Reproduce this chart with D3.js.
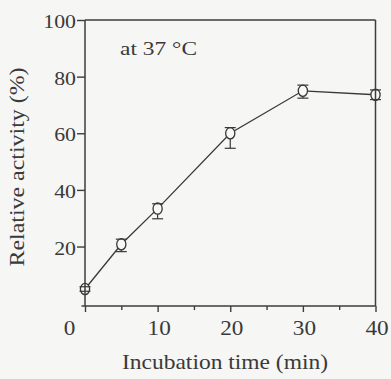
<!DOCTYPE html>
<html>
<head>
<meta charset="utf-8">
<script src="https://cdn.jsdelivr.net/npm/d3@7"></script>
<style>
  html, body { margin: 0; padding: 0; background: #f6f6f5; }
  svg { display: block; }
  text { font-family: "Liberation Serif", "Times New Roman", serif; fill: #3a3a3a; }
</style>
</head>
<body>
<svg id="chart" width="391" height="379"></svg>
<script>
// ---- data ----
const times = [0, 5, 10, 20, 30, 40];                 // incubation time (min)
const activity = [5, 20.8, 33.4, 60, 75, 73.6];        // relative activity (%)
const errUp = [0.8, 1.8, 1.7, 2.0, 2.0, 1.7];
const errDown = [0.8, 2.6, 3.6, 5.3, 2.6, 1.7];
const xMajorTicks = [0, 10, 20, 30, 40];
const xMinorTicks = [5, 15, 25, 35];
const yTicks = [20, 40, 60, 80, 100];
const xTitle = "Incubation time (min)";
const yTitle = "Relative activity (%)";
const note = "at 37 °C";

// ---- layout ----
const svg = d3.select("#chart");
const x = d3.scaleLinear().domain([0, 40]).range([85, 375.5]);
const y = d3.scaleLinear().domain([-1, 100]).range([306, 20]);
const ink = "#383838";

const points = times.map((t, i) => ({ t, v: activity[i], up: errUp[i], dn: errDown[i] }));

// data line
svg.append("path")
  .datum(points)
  .attr("fill", "none")
  .attr("stroke", ink)
  .attr("stroke-width", 1.3)
  .attr("d", d3.line().x(d => x(d.t)).y(d => y(d.v)));

// error stems (behind markers)
svg.append("g").selectAll("line").data(points).join("line")
  .attr("x1", d => x(d.t)).attr("x2", d => x(d.t))
  .attr("y1", d => y(d.v + d.up)).attr("y2", d => y(d.v - d.dn))
  .attr("stroke", ink).attr("stroke-width", 1.2);

// markers
svg.append("g").selectAll("ellipse").data(points).join("ellipse")
  .attr("cx", d => x(d.t)).attr("cy", d => y(d.v))
  .attr("rx", 4.6).attr("ry", 5.6)
  .attr("fill", "#f8f8f7")
  .attr("stroke", ink).attr("stroke-width", 1.3);

// error caps (on top)
const capW = 5.5;
const caps = svg.append("g");
caps.selectAll("line.up").data(points).join("line").attr("class", "up")
  .attr("x1", d => x(d.t) - capW).attr("x2", d => x(d.t) + capW)
  .attr("y1", d => y(d.v + d.up)).attr("y2", d => y(d.v + d.up))
  .attr("stroke", ink).attr("stroke-width", 1.2);
caps.selectAll("line.dn").data(points).join("line").attr("class", "dn")
  .attr("x1", d => x(d.t) - capW).attr("x2", d => x(d.t) + capW)
  .attr("y1", d => y(d.v - d.dn)).attr("y2", d => y(d.v - d.dn))
  .attr("stroke", ink).attr("stroke-width", 1.2);

// ---- axes ----
const axisStroke = "#3c3c3c";
const xAxisG = svg.append("g").attr("transform", `translate(0,${y(-1)})`)
  .call(d3.axisBottom(x).tickValues(xMajorTicks).tickSize(6).tickFormat(d3.format("d")));
const xMinorG = svg.append("g").attr("transform", `translate(0,${y(-1)})`)
  .call(d3.axisBottom(x).tickValues(xMinorTicks).tickSize(4).tickFormat(""));
const yAxisG = svg.append("g").attr("transform", `translate(${x(0)},0)`)
  .call(d3.axisLeft(y).tickValues(yTicks).tickSize(8).tickPadding(1).tickFormat(d3.format("d")));

[xAxisG, xMinorG, yAxisG].forEach(g => {
  g.select(".domain").remove();
  g.selectAll(".tick line").attr("stroke", axisStroke).attr("stroke-width", 1.4);
});

xAxisG.selectAll(".tick text")
  .attr("y", 29).attr("dy", 0)
  .attr("font-size", 21)
  .attr("fill", "#3a3a3a")
  .attr("font-family", "Liberation Serif, Times New Roman, serif")
  .attr("textLength", d => String(d).length * 11.6)
  .attr("lengthAdjust", "spacingAndGlyphs")
  .attr("x", d => d === 0 ? -16 : 1);

yAxisG.selectAll(".tick text")
  .attr("dy", "0.4em")
  .attr("font-size", 19)
  .attr("fill", "#3a3a3a")
  .attr("font-family", "Liberation Serif, Times New Roman, serif")
  .attr("textLength", d => String(d).length * 10.9)
  .attr("lengthAdjust", "spacingAndGlyphs");

// frame
const frame = svg.append("g").attr("stroke", axisStroke).attr("stroke-width", 1.5).attr("fill", "none");
frame.append("line").attr("x1", x(0)).attr("x2", x(0)).attr("y1", y(100)).attr("y2", y(-1));
frame.append("line").attr("x1", x(40)).attr("x2", x(40)).attr("y1", y(100)).attr("y2", y(-1));
frame.append("line").attr("x1", x(0)).attr("x2", x(40)).attr("y1", y(100)).attr("y2", y(100));
frame.append("line").attr("x1", x(0) - 3.5).attr("x2", x(40)).attr("y1", y(-1)).attr("y2", y(-1));

// titles
svg.append("text")
  .attr("x", 225).attr("y", 369)
  .attr("text-anchor", "middle")
  .attr("font-size", 21.5)
  .attr("textLength", 206).attr("lengthAdjust", "spacingAndGlyphs")
  .text(xTitle);

svg.append("text")
  .attr("transform", "translate(24,167) rotate(-90)")
  .attr("text-anchor", "middle")
  .attr("font-size", 22)
  .attr("textLength", 199).attr("lengthAdjust", "spacingAndGlyphs")
  .text(yTitle);

svg.append("text")
  .attr("x", 120).attr("y", 55)
  .attr("font-size", 19)
  .attr("textLength", 77).attr("lengthAdjust", "spacingAndGlyphs")
  .text(note);
</script>
</body>
</html>
